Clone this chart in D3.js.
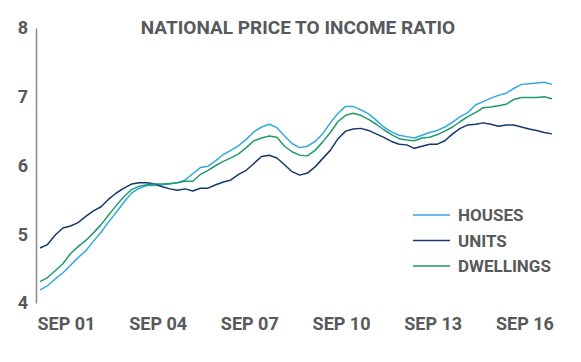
<!DOCTYPE html>
<html>
<head>
<meta charset="utf-8">
<script src="https://cdn.jsdelivr.net/npm/d3@7"></script>
<style>
  body { margin: 0; background: #fff; }
  text { font-family: Roboto, "DejaVu Sans", sans-serif; font-weight: 700; fill: #58595b; }
</style>
</head>
<body>
<div id="chart"></div>
<script>
// quarterly, Dec 2000 .. Sep 2017
const startDate = new Date(2000, 11, 1);
const houses = [4.19, 4.25, 4.35, 4.44, 4.55, 4.66, 4.76, 4.90, 5.03, 5.18, 5.32, 5.47, 5.60, 5.67, 5.71, 5.71,
  5.72, 5.73, 5.75, 5.79, 5.88, 5.97, 5.99, 6.07, 6.16, 6.22, 6.29, 6.38, 6.49, 6.56, 6.60, 6.55,
  6.43, 6.32, 6.26, 6.28, 6.35, 6.46, 6.62, 6.76, 6.86, 6.86, 6.81, 6.75, 6.66, 6.56, 6.49, 6.44,
  6.42, 6.40, 6.44, 6.48, 6.51, 6.56, 6.63, 6.71, 6.77, 6.88, 6.93, 6.98, 7.02, 7.05, 7.12, 7.18,
  7.19, 7.20, 7.21, 7.18];
const units = [4.80, 4.85, 4.99, 5.09, 5.12, 5.17, 5.26, 5.34, 5.40, 5.51, 5.60, 5.67, 5.73, 5.75, 5.75, 5.73,
  5.69, 5.66, 5.64, 5.66, 5.63, 5.67, 5.67, 5.72, 5.76, 5.79, 5.87, 5.93, 6.03, 6.13, 6.15, 6.11,
  6.01, 5.91, 5.86, 5.89, 5.98, 6.10, 6.22, 6.39, 6.50, 6.53, 6.54, 6.51, 6.46, 6.41, 6.35, 6.31,
  6.30, 6.25, 6.28, 6.31, 6.31, 6.36, 6.46, 6.54, 6.59, 6.60, 6.62, 6.60, 6.57, 6.59, 6.59, 6.56,
  6.53, 6.51, 6.48, 6.46];
const dwellings = [4.31, 4.37, 4.47, 4.57, 4.72, 4.82, 4.91, 5.02, 5.14, 5.28, 5.42, 5.55, 5.65, 5.70, 5.72, 5.73,
  5.73, 5.74, 5.75, 5.77, 5.77, 5.87, 5.93, 6.00, 6.06, 6.11, 6.17, 6.26, 6.36, 6.40, 6.43, 6.41,
  6.28, 6.20, 6.15, 6.14, 6.22, 6.34, 6.48, 6.64, 6.73, 6.76, 6.73, 6.67, 6.60, 6.52, 6.45, 6.39,
  6.37, 6.36, 6.40, 6.41, 6.45, 6.50, 6.56, 6.64, 6.71, 6.77, 6.84, 6.85, 6.87, 6.89, 6.96, 6.99,
  6.99, 6.99, 7.00, 6.97];
const seriesNames = ['HOUSES', 'UNITS', 'DWELLINGS'];
const seriesColors = ['#33a9df', '#15386b', '#229a6a'];
const yTicks = [4, 5, 6, 7, 8];
const xTickDates = [2001, 2004, 2007, 2010, 2013, 2016].map((y) => new Date(y, 8, 1));
const title = 'NATIONAL PRICE TO INCOME RATIO';

const width = 581;
const height = 362;
const dates = houses.map((_, i) => d3.timeMonth.offset(startDate, i * 3));

const svg = d3.select('#chart').append('svg')
  .attr('width', width)
  .attr('height', height);

const x = d3.scaleTime()
  .domain([dates[0], dates[dates.length - 1]])
  .range([40, 552]);
const y = d3.scaleLinear().domain([4, 8]).range([303, 28]);

svg.append('text')
  .attr('x', 298)
  .attr('y', 34)
  .attr('text-anchor', 'middle')
  .attr('font-size', 19)
  .text(title);

// y axis
const yAxis = svg.append('g')
  .attr('transform', 'translate(36,0)')
  .call(d3.axisLeft(y).tickValues(yTicks).tickSize(0).tickSizeOuter(0).tickPadding(8).tickFormat(d3.format('d')));
yAxis.select('.domain').attr('stroke', '#8a8a8a').attr('stroke-width', 1.5);
yAxis.selectAll('text').attr('font-size', 18).attr('fill', '#58595b');

// x axis (labels only)
const xAxis = svg.append('g')
  .attr('transform', 'translate(0,303)')
  .call(d3.axisBottom(x).tickValues(xTickDates).tickSize(0).tickPadding(14)
    .tickFormat((d) => 'SEP ' + d3.timeFormat('%y')(d)));
xAxis.select('.domain').remove();
xAxis.selectAll('text').attr('font-size', 18).attr('fill', '#58595b').attr('dx', 3);

const line = d3.line()
  .x((d, i) => x(dates[i]))
  .y((d) => y(d));

[houses, units, dwellings].forEach((vals, k) => {
  svg.append('path')
    .datum(vals)
    .attr('fill', 'none')
    .attr('stroke', seriesColors[k])
    .attr('stroke-width', 1.5)
    .attr('stroke-linejoin', 'round')
    .attr('d', line);
});

// legend
const legend = svg.append('g').attr('transform', 'translate(413,215)');
seriesNames.forEach((name, k) => {
  const row = legend.append('g').attr('transform', `translate(0,${k * 25.5})`);
  row.append('line')
    .attr('x1', 0).attr('x2', 37)
    .attr('stroke', seriesColors[k])
    .attr('stroke-width', 1.5);
  row.append('text')
    .attr('x', 45)
    .attr('dy', '0.36em')
    .attr('font-size', 17)
    .text(name);
});
</script>
</body>
</html>
